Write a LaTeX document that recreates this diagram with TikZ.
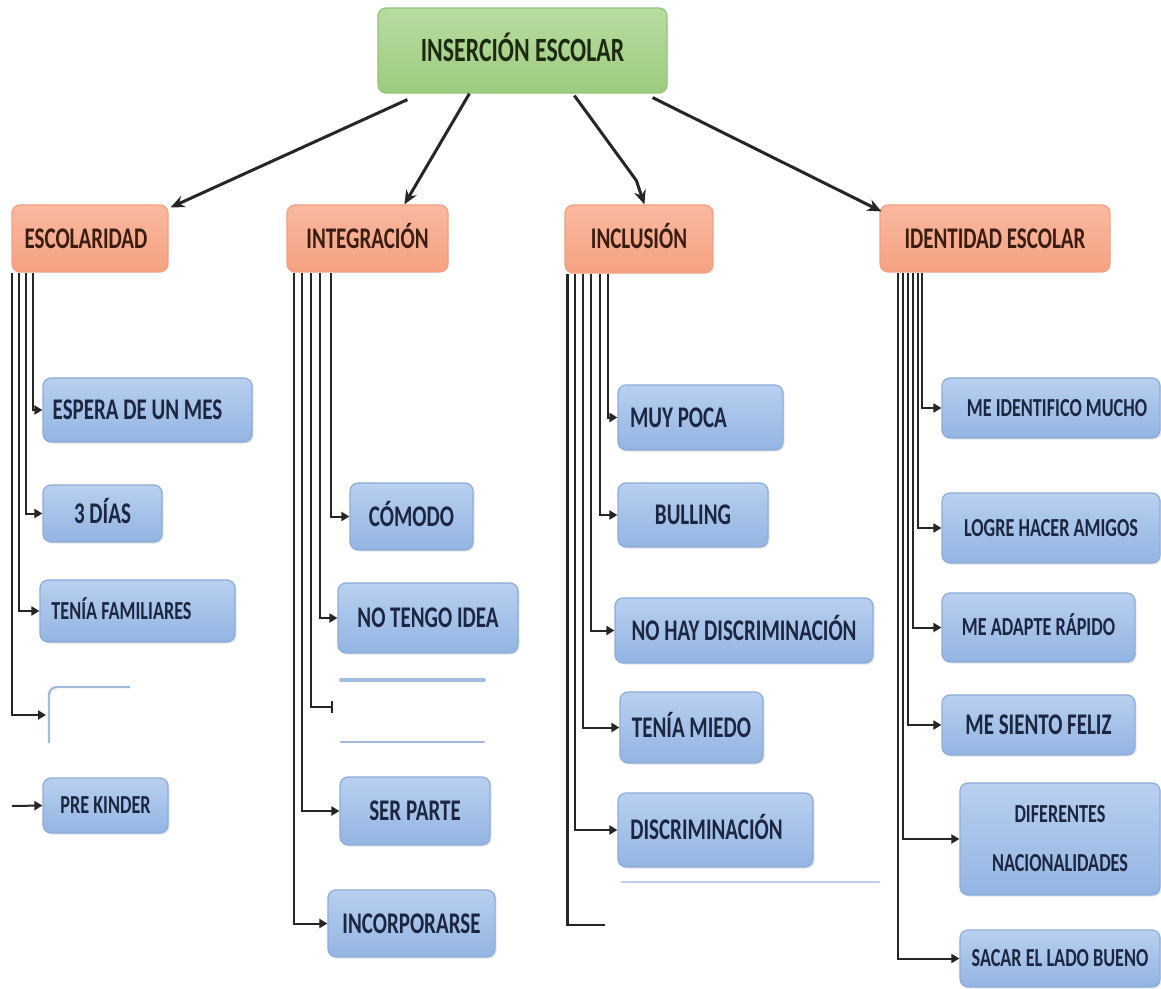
\documentclass[tikz,border=0pt]{standalone}
\usepackage{fontspec}
\setmainfont{Carlito}[FakeStretch=0.7]
\usetikzlibrary{calc,arrows.meta,shadows}
\definecolor{blueT}{HTML}{B9D0F0}
\definecolor{blueBot}{HTML}{93B4E2}
\definecolor{blueD}{HTML}{8DACD9}
\definecolor{blueTxt}{HTML}{1C2541}
\definecolor{orT}{HTML}{FAB9A0}
\definecolor{orBot}{HTML}{F5A181}
\definecolor{orD}{HTML}{F2A080}
\definecolor{orTxt}{HTML}{3A1D12}
\definecolor{grT}{HTML}{B9DCA1}
\definecolor{grBot}{HTML}{9DCB7F}
\definecolor{grD}{HTML}{92C476}
\definecolor{grTxt}{HTML}{1D2A12}
\definecolor{lineC}{HTML}{262626}
\definecolor{ghost}{HTML}{A3BBDD}
\begin{document}
\begin{tikzpicture}[x=0.5pt,y=-0.5pt,
  rect/.style n args={4}{at={({(#1+#3)/2},{(#2+#4)/2})},
    minimum width={(#3-#1)*0.5pt}, minimum height={(#4-#2)*0.5pt}},
  base/.style={rounded corners=4pt, inner sep=0pt, line width=0.6pt},
  bluebox/.style={base, draw=blueD, top color=blueT, bottom color=blueBot, text=blueTxt,
    drop shadow={opacity=0.18,shadow xshift=0.8pt,shadow yshift=-0.8pt}},
  orangebox/.style={base, draw=orD, top color=orT, bottom color=orBot, text=orTxt,
    font=\bfseries\fontsize{15pt}{18pt}\selectfont, text height=9.7pt, text depth=0pt},
  rootbox/.style={base, draw=grD, top color=grT, bottom color=grBot, text=grTxt,
    font=\bfseries\fontsize{17pt}{20pt}\selectfont, text height=11pt, text depth=0pt},
  fA/.style={font=\bfseries\fontsize{15pt}{18pt}\selectfont, text height=9.7pt, text depth=0pt},
  fB/.style={font=\bfseries\fontsize{13pt}{16pt}\selectfont, text height=8.4pt, text depth=0pt},
  fC/.style={font=\bfseries\fontsize{13pt}{24.5pt}\selectfont, align=center},
  mainarrow/.style={line width=1.5pt, draw=lineC, -{Stealth[length=7pt,width=6pt]}},
  branch/.style={line width=1pt, draw=lineC, -{Triangle[length=4pt,width=4.5pt]}},
  branchbar/.style={line width=1pt, draw=lineC, -{Bar[width=6pt]}},
  branchplain/.style={line width=1.2pt, draw=lineC},
  ghostline/.style={draw=ghost, line width=#1},
]
\useasboundingbox (0,0) rectangle (1161,989);
\fill[white] (0,0) rectangle (1161,989);

% root and level 1
\node[rootbox, rect={378}{8}{667}{93}] (root) {INSERCIÓN ESCOLAR};
\node[orangebox, rect={12}{205}{168}{272}] (esc) {ESCOLARIDAD\hspace*{4pt}};
\node[orangebox, rect={287}{205}{448}{272}] (integ) {INTEGRACIÓN};
\node[orangebox, rect={565}{205}{713}{273}] (incl) {INCLUSIÓN};
\node[orangebox, rect={880}{205}{1110}{272}] (ident) {IDENTIDAD ESCOLAR};

% escolaridad
\node[bluebox, fA, rect={43}{378}{252}{442}] (espera) {ESPERA DE UN MES\hspace*{10pt}};
\node[bluebox, fA, rect={43}{485}{162}{542}] (dias) {3 DÍAS};
\node[bluebox, fB, rect={40}{580}{235}{642}] (fam) {TENÍA FAMILIARES\hspace*{16pt}};
\node[bluebox, fB, rect={43}{778}{168}{833}] (prek) {PRE KINDER};
\draw[ghostline=1.2pt, rounded corners=4pt] (49,743) -- (49,687) -- (130,687);
\coordinate (e1) at (46,715);
\coordinate (pkstart) at (12,806);

% integracion
\node[bluebox, fA, rect={350}{483}{473}{550}] (comodo) {CÓMODO};
\node[bluebox, fA, rect={338}{583}{518}{653}] (notengo) {NO TENGO IDEA};
\node[bluebox, fA, rect={340}{777}{490}{845}] (serparte) {SER PARTE};
\node[bluebox, fA, rect={328}{890}{495}{957}] (incorp) {INCORPORARSE};
\draw[ghostline=2pt, line cap=round] (341,680) -- (484,680);
\draw[ghostline=1.4pt, line cap=round] (341,742) -- (484,742);
\coordinate (e2) at (333,707);

% inclusion
\node[bluebox, fA, rect={618}{385}{783}{450}] (muypoca) {MUY POCA\hspace*{22pt}};
\node[bluebox, fA, rect={618}{483}{768}{547}] (bulling) {BULLING};
\node[bluebox, fA, rect={615}{598}{873}{663}] (nohay) {NO HAY DISCRIMINACIÓN};
\node[bluebox, fA, rect={620}{692}{763}{763}] (miedo) {TENÍA MIEDO};
\node[bluebox, fA, rect={618}{793}{813}{867}] (discr) {DISCRIMINACIÓN\hspace*{9pt}};
\draw[draw=ghost!70, line width=0.6pt] (621,882) -- (880,882);
\coordinate (e3) at (605,925);

% identidad
\node[bluebox, fB, rect={942}{378}{1160}{438}] (idmucho) {\hspace*{6pt}ME IDENTIFICO MUCHO};
\node[bluebox, fB, rect={942}{493}{1160}{563}] (amigos) {LOGRE HACER AMIGOS};
\node[bluebox, fB, rect={942}{593}{1135}{662}] (adapte) {ME ADAPTE RÁPIDO};
\node[bluebox, fA, rect={942}{695}{1135}{755}] (feliz) {ME SIENTO FELIZ};
\node[bluebox, fC, rect={960}{783}{1160}{895}] (difer) {DIFERENTES\\NACIONALIDADES};
\node[bluebox, fB, rect={960}{930}{1160}{987}] (sacar) {SACAR EL LADO BUENO};

% main arrows
\draw[mainarrow] ($(root.south west)+(30,6)$) -- ($(esc.north east)+(2,3)$);
\draw[mainarrow] ($(root.south west)+(92,0)$) -- ($(integ.north west)+(118,0)$);
\draw[mainarrow] ($(root.south west)+(197,2)$) -- ++(62,85) -- ($(incl.north west)+(80,0)$);
\draw[mainarrow] ($(root.south east)+(-15,4)$) -- ($(ident.north west)+(2,7)$);

% escolaridad branches
\draw[branch] ($(esc.south west)+(22,0)$) |- (espera.west);
\draw[branch] ($(esc.south west)+(15,0)$) |- (dias.west);
\draw[branch] ($(esc.south west)+(8,0)$) |- (fam.west);
\draw[branch] ($(esc.south west)+(1,0)$) |- (e1);
\draw[branch] (pkstart) -- (prek.west);

% integracion branches
\draw[branch] ($(integ.south west)+(45,0)$) |- (comodo.west);
\draw[branch] ($(integ.south west)+(34,0)$) |- (notengo.west);
\draw[branchbar] ($(integ.south west)+(25,0)$) |- (e2);
\draw[branch] ($(integ.south west)+(16,0)$) |- (serparte.west);
\draw[branch] ($(integ.south west)+(8,0)$) |- (incorp.west);

% inclusion branches
\draw[branch] ($(incl.south west)+(44,0)$) |- (muypoca.west);
\draw[branch] ($(incl.south west)+(36,0)$) |- (bulling.west);
\draw[branch] ($(incl.south west)+(27,0)$) |- (nohay.west);
\draw[branch] ($(incl.south west)+(19,0)$) |- (miedo.west);
\draw[branch] ($(incl.south west)+(11,0)$) |- (discr.west);
\draw[branchplain] ($(incl.south west)+(3,0)$) |- (e3);

% identidad branches
\draw[branch] ($(ident.south west)+(43,0)$) |- (idmucho.west);
\draw[branch] ($(ident.south west)+(39,0)$) |- (amigos.west);
\draw[branch] ($(ident.south west)+(34,0)$) |- (adapte.west);
\draw[branch] ($(ident.south west)+(29,0)$) |- (feliz.west);
\draw[branch] ($(ident.south west)+(24,0)$) |- (difer.west);
\draw[branch] ($(ident.south west)+(19,0)$) |- (sacar.west);
\end{tikzpicture}
\end{document}
